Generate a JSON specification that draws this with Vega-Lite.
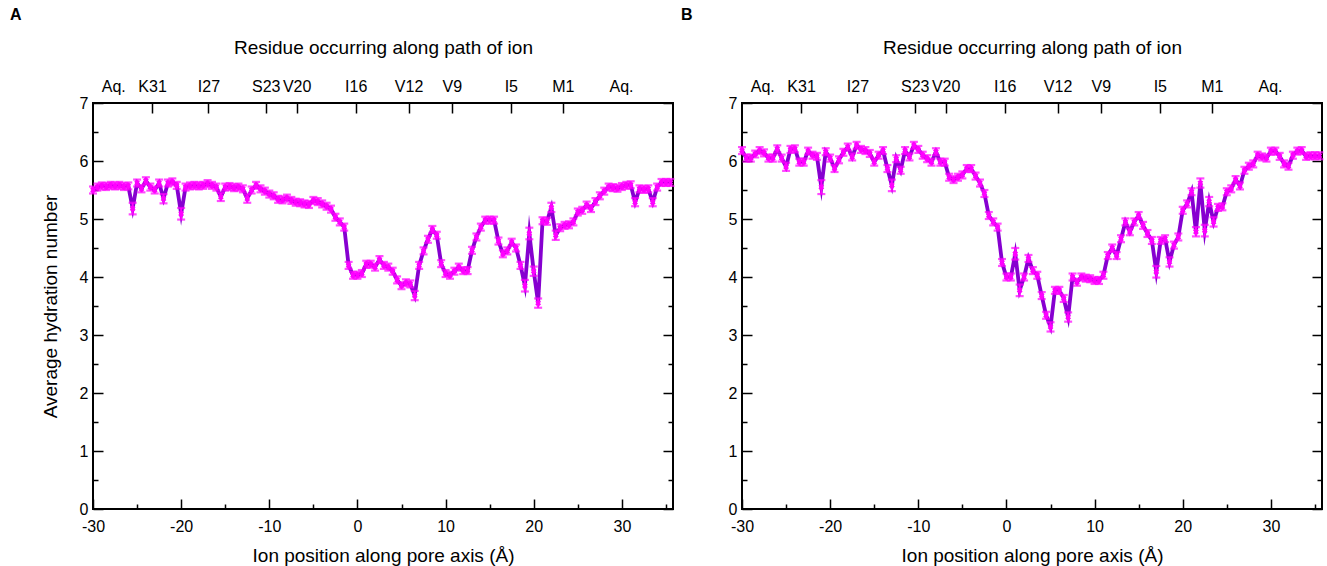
{
 "$schema": "https://vega.github.io/schema/vega-lite/v6.json",
 "padding": {"left": 9, "top": 6, "right": 5, "bottom": 5},
 "background": "white",
 "datasets": {
  "A": [
   {"x":-30,"h":5.50,"e":0.06},{"x":-29.5,"h":5.55,"e":0.06},{"x":-29,"h":5.57,"e":0.06},{"x":-28.5,"h":5.56,"e":0.06},{"x":-28,"h":5.58,"e":0.06},{"x":-27.5,"h":5.57,"e":0.06},{"x":-27,"h":5.58,"e":0.06},{"x":-26.5,"h":5.56,"e":0.06},{"x":-26,"h":5.57,"e":0.06},{"x":-25.5,"h":5.18,"e":0.1},{"x":-25,"h":5.62,"e":0.06},{"x":-24.5,"h":5.52,"e":0.06},{"x":-24,"h":5.66,"e":0.06},{"x":-23.5,"h":5.55,"e":0.06},{"x":-23,"h":5.50,"e":0.06},{"x":-22.5,"h":5.62,"e":0.06},{"x":-22,"h":5.35,"e":0.08},{"x":-21.5,"h":5.62,"e":0.06},{"x":-21,"h":5.64,"e":0.06},{"x":-20.5,"h":5.58,"e":0.06},{"x":-20,"h":5.09,"e":0.1},{"x":-19.5,"h":5.55,"e":0.06},{"x":-19,"h":5.57,"e":0.06},{"x":-18.5,"h":5.58,"e":0.06},{"x":-18,"h":5.57,"e":0.06},{"x":-17.5,"h":5.58,"e":0.06},{"x":-17,"h":5.61,"e":0.06},{"x":-16.5,"h":5.58,"e":0.06},{"x":-16,"h":5.55,"e":0.06},{"x":-15.5,"h":5.38,"e":0.07},{"x":-15,"h":5.55,"e":0.06},{"x":-14.5,"h":5.56,"e":0.06},{"x":-14,"h":5.54,"e":0.06},{"x":-13.5,"h":5.55,"e":0.06},{"x":-13,"h":5.52,"e":0.06},{"x":-12.5,"h":5.35,"e":0.07},{"x":-12,"h":5.50,"e":0.06},{"x":-11.5,"h":5.58,"e":0.06},{"x":-11,"h":5.52,"e":0.06},{"x":-10.5,"h":5.48,"e":0.06},{"x":-10,"h":5.43,"e":0.06},{"x":-9.5,"h":5.40,"e":0.06},{"x":-9,"h":5.34,"e":0.06},{"x":-8.5,"h":5.33,"e":0.06},{"x":-8,"h":5.36,"e":0.06},{"x":-7.5,"h":5.32,"e":0.06},{"x":-7,"h":5.29,"e":0.06},{"x":-6.5,"h":5.28,"e":0.06},{"x":-6,"h":5.26,"e":0.06},{"x":-5.5,"h":5.25,"e":0.06},{"x":-5,"h":5.32,"e":0.06},{"x":-4.5,"h":5.30,"e":0.06},{"x":-4,"h":5.26,"e":0.06},{"x":-3.5,"h":5.22,"e":0.06},{"x":-3,"h":5.17,"e":0.06},{"x":-2.5,"h":5.03,"e":0.06},{"x":-2,"h":4.95,"e":0.06},{"x":-1.5,"h":4.86,"e":0.06},{"x":-1,"h":4.20,"e":0.06},{"x":-0.5,"h":4.03,"e":0.06},{"x":0,"h":4.03,"e":0.06},{"x":0.5,"h":4.06,"e":0.06},{"x":1,"h":4.22,"e":0.06},{"x":1.5,"h":4.22,"e":0.06},{"x":2,"h":4.17,"e":0.06},{"x":2.5,"h":4.30,"e":0.06},{"x":3,"h":4.20,"e":0.06},{"x":3.5,"h":4.17,"e":0.06},{"x":4,"h":4.10,"e":0.06},{"x":4.5,"h":3.95,"e":0.06},{"x":5,"h":3.85,"e":0.06},{"x":5.5,"h":3.90,"e":0.06},{"x":6,"h":3.88,"e":0.06},{"x":6.5,"h":3.68,"e":0.08},{"x":7,"h":4.20,"e":0.06},{"x":7.5,"h":4.45,"e":0.06},{"x":8,"h":4.65,"e":0.06},{"x":8.5,"h":4.82,"e":0.06},{"x":9,"h":4.72,"e":0.06},{"x":9.5,"h":4.23,"e":0.06},{"x":10,"h":4.06,"e":0.06},{"x":10.5,"h":4.03,"e":0.06},{"x":11,"h":4.10,"e":0.06},{"x":11.5,"h":4.17,"e":0.06},{"x":12,"h":4.11,"e":0.06},{"x":12.5,"h":4.11,"e":0.06},{"x":13,"h":4.46,"e":0.06},{"x":13.5,"h":4.69,"e":0.06},{"x":14,"h":4.86,"e":0.06},{"x":14.5,"h":4.98,"e":0.06},{"x":15,"h":4.98,"e":0.06},{"x":15.5,"h":4.98,"e":0.06},{"x":16,"h":4.62,"e":0.06},{"x":16.5,"h":4.40,"e":0.06},{"x":17,"h":4.45,"e":0.06},{"x":17.5,"h":4.60,"e":0.06},{"x":18,"h":4.50,"e":0.06},{"x":18.5,"h":4.20,"e":0.06},{"x":19,"h":3.85,"e":0.1},{"x":19.5,"h":4.75,"e":0.1},{"x":20,"h":4.10,"e":0.08},{"x":20.5,"h":3.55,"e":0.08},{"x":21,"h":4.97,"e":0.06},{"x":21.5,"h":4.96,"e":0.06},{"x":22,"h":5.20,"e":0.08},{"x":22.5,"h":4.72,"e":0.08},{"x":23,"h":4.85,"e":0.06},{"x":23.5,"h":4.89,"e":0.06},{"x":24,"h":4.90,"e":0.06},{"x":24.5,"h":4.95,"e":0.06},{"x":25,"h":5.12,"e":0.06},{"x":25.5,"h":5.15,"e":0.06},{"x":26,"h":5.24,"e":0.06},{"x":26.5,"h":5.18,"e":0.06},{"x":27,"h":5.30,"e":0.06},{"x":27.5,"h":5.40,"e":0.06},{"x":28,"h":5.48,"e":0.06},{"x":28.5,"h":5.55,"e":0.06},{"x":29,"h":5.54,"e":0.06},{"x":29.5,"h":5.53,"e":0.06},{"x":30,"h":5.56,"e":0.06},{"x":30.5,"h":5.58,"e":0.06},{"x":31,"h":5.59,"e":0.06},{"x":31.5,"h":5.29,"e":0.07},{"x":32,"h":5.52,"e":0.06},{"x":32.5,"h":5.51,"e":0.06},{"x":33,"h":5.52,"e":0.06},{"x":33.5,"h":5.29,"e":0.07},{"x":34,"h":5.55,"e":0.06},{"x":34.5,"h":5.63,"e":0.06},{"x":35,"h":5.63,"e":0.06},{"x":35.5,"h":5.63,"e":0.06}
  ],
  "B": [
   {"x":-30,"h":6.18,"e":0.06},{"x":-29.5,"h":6.05,"e":0.06},{"x":-29,"h":6.05,"e":0.06},{"x":-28.5,"h":6.12,"e":0.06},{"x":-28,"h":6.18,"e":0.06},{"x":-27.5,"h":6.14,"e":0.06},{"x":-27,"h":6.05,"e":0.06},{"x":-26.5,"h":6.05,"e":0.06},{"x":-26,"h":6.21,"e":0.06},{"x":-25.5,"h":6.05,"e":0.06},{"x":-25,"h":5.90,"e":0.07},{"x":-24.5,"h":6.20,"e":0.06},{"x":-24,"h":6.21,"e":0.06},{"x":-23.5,"h":5.98,"e":0.06},{"x":-23,"h":5.98,"e":0.06},{"x":-22.5,"h":6.17,"e":0.06},{"x":-22,"h":6.10,"e":0.06},{"x":-21.5,"h":6.08,"e":0.06},{"x":-21,"h":5.55,"e":0.12},{"x":-20.5,"h":6.16,"e":0.06},{"x":-20,"h":6.05,"e":0.06},{"x":-19.5,"h":5.87,"e":0.06},{"x":-19,"h":6.02,"e":0.06},{"x":-18.5,"h":6.15,"e":0.06},{"x":-18,"h":6.24,"e":0.06},{"x":-17.5,"h":6.07,"e":0.06},{"x":-17,"h":6.27,"e":0.06},{"x":-16.5,"h":6.20,"e":0.06},{"x":-16,"h":6.18,"e":0.06},{"x":-15.5,"h":6.13,"e":0.06},{"x":-15,"h":5.98,"e":0.06},{"x":-14.5,"h":6.10,"e":0.06},{"x":-14,"h":6.18,"e":0.06},{"x":-13.5,"h":5.87,"e":0.06},{"x":-13,"h":5.58,"e":0.1},{"x":-12.5,"h":6.04,"e":0.06},{"x":-12,"h":5.84,"e":0.06},{"x":-11.5,"h":6.18,"e":0.06},{"x":-11,"h":6.07,"e":0.06},{"x":-10.5,"h":6.27,"e":0.06},{"x":-10,"h":6.20,"e":0.06},{"x":-9.5,"h":6.10,"e":0.06},{"x":-9,"h":6.04,"e":0.06},{"x":-8.5,"h":5.98,"e":0.06},{"x":-8,"h":6.16,"e":0.06},{"x":-7.5,"h":5.98,"e":0.06},{"x":-7,"h":5.98,"e":0.06},{"x":-6.5,"h":5.72,"e":0.06},{"x":-6,"h":5.68,"e":0.06},{"x":-5.5,"h":5.72,"e":0.06},{"x":-5,"h":5.76,"e":0.06},{"x":-4.5,"h":5.87,"e":0.06},{"x":-4,"h":5.87,"e":0.06},{"x":-3.5,"h":5.74,"e":0.06},{"x":-3,"h":5.62,"e":0.06},{"x":-2.5,"h":5.44,"e":0.06},{"x":-2,"h":5.06,"e":0.06},{"x":-1.5,"h":4.95,"e":0.06},{"x":-1,"h":4.86,"e":0.06},{"x":-0.5,"h":4.25,"e":0.06},{"x":0,"h":4.00,"e":0.06},{"x":0.5,"h":4.00,"e":0.06},{"x":1,"h":4.40,"e":0.1},{"x":1.5,"h":3.77,"e":0.1},{"x":2,"h":4.00,"e":0.06},{"x":2.5,"h":4.32,"e":0.06},{"x":3,"h":4.11,"e":0.06},{"x":3.5,"h":4.03,"e":0.06},{"x":4,"h":3.68,"e":0.06},{"x":4.5,"h":3.34,"e":0.06},{"x":5,"h":3.14,"e":0.08},{"x":5.5,"h":3.77,"e":0.06},{"x":6,"h":3.77,"e":0.06},{"x":6.5,"h":3.63,"e":0.06},{"x":7,"h":3.31,"e":0.08},{"x":7.5,"h":4.00,"e":0.06},{"x":8,"h":3.91,"e":0.06},{"x":8.5,"h":4.00,"e":0.06},{"x":9,"h":3.98,"e":0.06},{"x":9.5,"h":3.97,"e":0.06},{"x":10,"h":3.94,"e":0.06},{"x":10.5,"h":3.94,"e":0.06},{"x":11,"h":4.03,"e":0.06},{"x":11.5,"h":4.37,"e":0.06},{"x":12,"h":4.50,"e":0.06},{"x":12.5,"h":4.37,"e":0.06},{"x":13,"h":4.66,"e":0.06},{"x":13.5,"h":4.95,"e":0.06},{"x":14,"h":4.78,"e":0.06},{"x":14.5,"h":4.95,"e":0.06},{"x":15,"h":5.06,"e":0.06},{"x":15.5,"h":4.89,"e":0.06},{"x":16,"h":4.75,"e":0.06},{"x":16.5,"h":4.63,"e":0.06},{"x":17,"h":4.09,"e":0.1},{"x":17.5,"h":4.63,"e":0.06},{"x":18,"h":4.66,"e":0.06},{"x":18.5,"h":4.26,"e":0.08},{"x":19,"h":4.55,"e":0.06},{"x":19.5,"h":4.69,"e":0.06},{"x":20,"h":5.15,"e":0.06},{"x":20.5,"h":5.26,"e":0.06},{"x":21,"h":5.47,"e":0.06},{"x":21.5,"h":4.78,"e":0.08},{"x":22,"h":5.62,"e":0.08},{"x":22.5,"h":4.80,"e":0.1},{"x":23,"h":5.30,"e":0.08},{"x":23.5,"h":4.95,"e":0.08},{"x":24,"h":5.20,"e":0.06},{"x":24.5,"h":5.21,"e":0.06},{"x":25,"h":5.47,"e":0.06},{"x":25.5,"h":5.52,"e":0.06},{"x":26,"h":5.68,"e":0.06},{"x":26.5,"h":5.57,"e":0.06},{"x":27,"h":5.84,"e":0.06},{"x":27.5,"h":5.91,"e":0.06},{"x":28,"h":5.95,"e":0.06},{"x":28.5,"h":6.10,"e":0.06},{"x":29,"h":6.07,"e":0.06},{"x":29.5,"h":6.05,"e":0.06},{"x":30,"h":6.17,"e":0.06},{"x":30.5,"h":6.17,"e":0.06},{"x":31,"h":6.08,"e":0.06},{"x":31.5,"h":5.95,"e":0.06},{"x":32,"h":5.91,"e":0.06},{"x":32.5,"h":6.10,"e":0.06},{"x":33,"h":6.17,"e":0.06},{"x":33.5,"h":6.18,"e":0.06},{"x":34,"h":6.08,"e":0.06},{"x":34.5,"h":6.09,"e":0.06},{"x":35,"h":6.09,"e":0.06},{"x":35.5,"h":6.09,"e":0.06}
  ]
 },
 "bounds": "flush",
 "spacing": 69,
 "hconcat": [
  {
   "width": 580, "height": 406,
   "data": {"name": "A"},
   "title": {"text": "A", "anchor": "start", "frame": "bounds", "dx": -31, "offset": 15},
   "layer": [
    {"mark": {"type": "line", "color": "#8600d0", "strokeWidth": 3.8, "strokeJoin": "miter", "strokeMiterLimit": 10},
     "encoding": {
      "x": {"field": "x", "type": "quantitative", "scale": {"domain": [-30, 35.8], "nice": false, "zero": false},
            "axis": {"orient": "bottom", "values": [-30, -20, -10, 0, 10, 20, 30], "labelExpr": "replace(datum.label, '−', '-')", "tickSize": -10, "labelPadding": 19, "title": "Ion position along pore axis (Å)", "titlePadding": 12}},
      "y": {"field": "h", "type": "quantitative", "scale": {"domain": [0, 7], "nice": false, "zero": false},
            "axis": {"orient": "left", "values": [0, 1, 2, 3, 4, 5, 6, 7], "tickSize": -10, "labelPadding": 15, "title": "Average hydration number", "titlePadding": 19}}
     }},
    {"mark": {"type": "errorbar", "color": "#ff00ff", "thickness": 2, "ticks": {"size": 8, "thickness": 2.2, "color": "#ff00ff"}},
     "encoding": {
      "x": {"field": "x", "type": "quantitative", "axis": null},
      "y": {"field": "h", "type": "quantitative", "axis": null},
      "yError": {"field": "e"}
     }},
    {"mark": {"type": "point", "shape": "cross", "angle": 45, "size": 34, "filled": true, "color": "#ff00ff", "opacity": 1},
     "encoding": {
      "x": {"field": "x", "type": "quantitative", "axis": null},
      "y": {"field": "h", "type": "quantitative", "axis": null}
     }},
    {"mark": {"type": "point", "opacity": 0},
     "encoding": {
      "x": {"field": "x", "type": "quantitative", "axis": {"orient": "bottom", "values": [-25, -15, -5, 5, 15, 25, 35], "tickSize": -5, "labels": false, "title": null}},
      "y": {"field": "h", "type": "quantitative", "axis": {"orient": "left", "values": [0.5, 1.5, 2.5, 3.5, 4.5, 5.5, 6.5], "tickSize": -5, "labels": false, "title": null}}
     }},
    {"mark": {"type": "point", "opacity": 0},
     "encoding": {
      "x": {"field": "x", "type": "quantitative", "axis": {"orient": "top", "values": [-27.7, -23.3, -16.9, -10.4, -6.9, -0.2, 5.8, 10.7, 17.4, 23.3, 29.9],
            "labelExpr": "['Aq.','K31','I27','S23','V20','I16','V12','V9','I5','M1','Aq.'][indexof([-27.7,-23.3,-16.9,-10.4,-6.9,-0.2,5.8,10.7,17.4,23.3,29.9], datum.value)]",
            "tickSize": -10, "labelPadding": 19, "title": "Residue occurring along path of ion", "titlePadding": 21,
            "tickOpacity": {"condition": {"test": "datum.value < -25 || datum.value > 28", "value": 0}, "value": 1}}},
      "y": {"field": "h", "type": "quantitative", "axis": {"orient": "right", "values": [0, 1, 2, 3, 4, 5, 6, 7], "tickSize": -10, "labels": false, "title": null, "minExtent": 0}}
     }},
    {"mark": {"type": "point", "opacity": 0},
     "encoding": {
      "x": {"field": "x", "type": "quantitative", "axis": null},
      "y": {"field": "h", "type": "quantitative", "axis": {"orient": "right", "values": [0.5, 1.5, 2.5, 3.5, 4.5, 5.5, 6.5], "tickSize": -5, "labels": false, "title": null, "minExtent": 0}}
     }}
   ],
   "resolve": {"axis": {"x": "independent", "y": "independent"}}
  },
  {
   "width": 580, "height": 406,
   "data": {"name": "B"},
   "title": {"text": "B", "anchor": "start", "frame": "bounds", "dx": -42, "offset": 15},
   "layer": [
    {"mark": {"type": "line", "color": "#8600d0", "strokeWidth": 3.8, "strokeJoin": "miter", "strokeMiterLimit": 10},
     "encoding": {
      "x": {"field": "x", "type": "quantitative", "scale": {"domain": [-30, 35.8], "nice": false, "zero": false},
            "axis": {"orient": "bottom", "values": [-30, -20, -10, 0, 10, 20, 30], "labelExpr": "replace(datum.label, '−', '-')", "tickSize": -10, "labelPadding": 19, "title": "Ion position along pore axis (Å)", "titlePadding": 12}},
      "y": {"field": "h", "type": "quantitative", "scale": {"domain": [0, 7], "nice": false, "zero": false},
            "axis": {"orient": "left", "values": [0, 1, 2, 3, 4, 5, 6, 7], "tickSize": -10, "labelPadding": 15, "title": null}}
     }},
    {"mark": {"type": "errorbar", "color": "#ff00ff", "thickness": 2, "ticks": {"size": 8, "thickness": 2.2, "color": "#ff00ff"}},
     "encoding": {
      "x": {"field": "x", "type": "quantitative", "axis": null},
      "y": {"field": "h", "type": "quantitative", "axis": null},
      "yError": {"field": "e"}
     }},
    {"mark": {"type": "point", "shape": "cross", "angle": 45, "size": 34, "filled": true, "color": "#ff00ff", "opacity": 1},
     "encoding": {
      "x": {"field": "x", "type": "quantitative", "axis": null},
      "y": {"field": "h", "type": "quantitative", "axis": null}
     }},
    {"mark": {"type": "point", "opacity": 0},
     "encoding": {
      "x": {"field": "x", "type": "quantitative", "axis": {"orient": "bottom", "values": [-25, -15, -5, 5, 15, 25, 35], "tickSize": -5, "labels": false, "title": null}},
      "y": {"field": "h", "type": "quantitative", "axis": {"orient": "left", "values": [0.5, 1.5, 2.5, 3.5, 4.5, 5.5, 6.5], "tickSize": -5, "labels": false, "title": null}}
     }},
    {"mark": {"type": "point", "opacity": 0},
     "encoding": {
      "x": {"field": "x", "type": "quantitative", "axis": {"orient": "top", "values": [-27.7, -23.3, -16.9, -10.4, -6.9, -0.2, 5.8, 10.7, 17.4, 23.3, 29.9],
            "labelExpr": "['Aq.','K31','I27','S23','V20','I16','V12','V9','I5','M1','Aq.'][indexof([-27.7,-23.3,-16.9,-10.4,-6.9,-0.2,5.8,10.7,17.4,23.3,29.9], datum.value)]",
            "tickSize": -10, "labelPadding": 19, "title": "Residue occurring along path of ion", "titlePadding": 21,
            "tickOpacity": {"condition": {"test": "datum.value < -25 || datum.value > 28", "value": 0}, "value": 1}}},
      "y": {"field": "h", "type": "quantitative", "axis": {"orient": "right", "values": [0, 1, 2, 3, 4, 5, 6, 7], "tickSize": -10, "labels": false, "title": null, "minExtent": 0}}
     }},
    {"mark": {"type": "point", "opacity": 0},
     "encoding": {
      "x": {"field": "x", "type": "quantitative", "axis": null},
      "y": {"field": "h", "type": "quantitative", "axis": {"orient": "right", "values": [0.5, 1.5, 2.5, 3.5, 4.5, 5.5, 6.5], "tickSize": -5, "labels": false, "title": null, "minExtent": 0}}
     }}
   ],
   "resolve": {"axis": {"x": "independent", "y": "independent"}}
  }
 ],
 "config": {
  "font": "Liberation Sans",
  "view": {"stroke": "black", "strokeWidth": 2},
  "axis": {"domain": false, "grid": false, "tickColor": "black", "tickWidth": 1.5, "labelColor": "black", "labelFontSize": 16, "titleFontSize": 19, "titleFontWeight": "normal", "titleColor": "black", "labelFlush": false, "labelOverlap": false, "labelFont": "Liberation Sans", "titleFont": "Liberation Sans"},
  "title": {"fontSize": 16, "fontWeight": "bold", "font": "Liberation Sans", "color": "black"}
 }
}
